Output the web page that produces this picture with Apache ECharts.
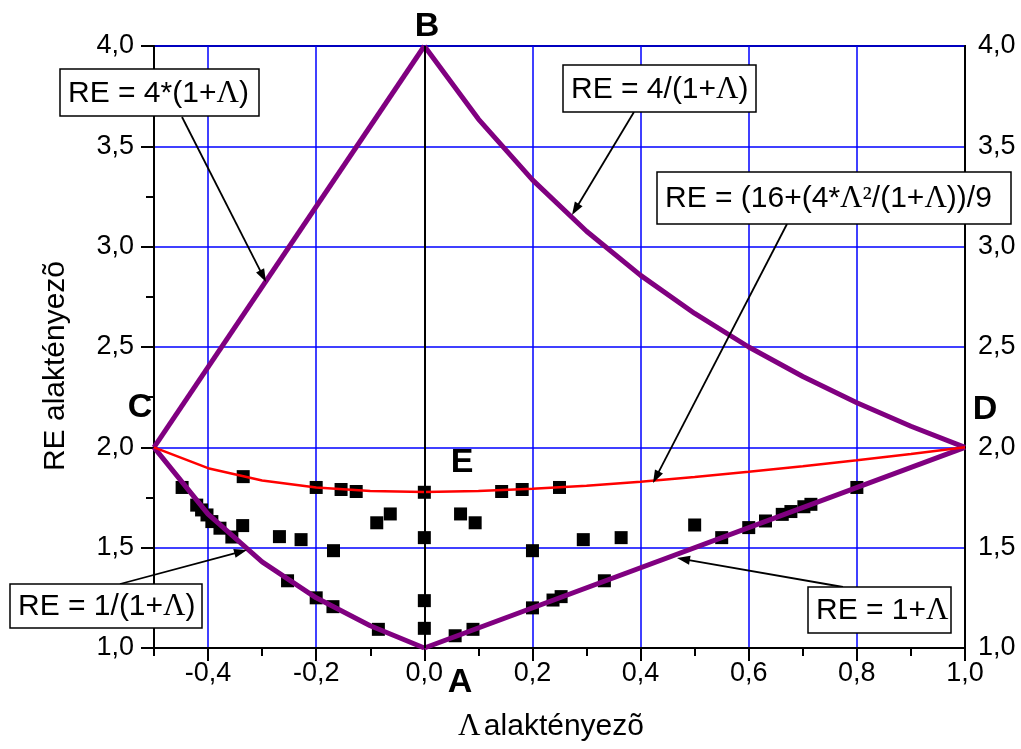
<!DOCTYPE html>
<html>
<head>
<meta charset="utf-8">
<script src="https://cdn.jsdelivr.net/npm/echarts@6/dist/echarts.min.js"></script>
<style>
body{margin:0;background:#fff;}
#chart{width:1021px;height:749px;}
</style>
</head>
<body>
<div id="chart"></div>
<script>
// RE alaktenyezo vs Lambda
var lamUpLeft = [-0.5, 0];
var reUpLeft = [2.0, 4.0];
var lamRight = [0, 0.1, 0.2, 0.3, 0.4, 0.5, 0.6, 0.7, 0.8, 0.9, 1.0];
var reUpRight = [4.0, 3.636, 3.333, 3.077, 2.857, 2.667, 2.5, 2.353, 2.222, 2.105, 2.0];
var lamLeft = [-0.5, -0.4, -0.3, -0.2, -0.1, 0];
var reLowLeft = [2.0, 1.667, 1.429, 1.25, 1.111, 1.0];
var lamLowRight = [0, 1.0];
var reLowRight = [1.0, 2.0];
var lamAll = [-0.5, -0.4, -0.3, -0.2, -0.1, 0, 0.1, 0.2, 0.3, 0.4, 0.5, 0.6, 0.7, 0.8, 0.9, 1.0];
var reRed = [2.0, 1.896, 1.835, 1.8, 1.783, 1.778, 1.782, 1.793, 1.809, 1.829, 1.852, 1.878, 1.906, 1.936, 1.967, 2.0];

var measLam = [-0.448, -0.335, -0.421, -0.412, -0.402, -0.393, -0.378, -0.356, -0.336, -0.268, -0.228,
  -0.2, -0.154, -0.126, -0.168, -0.088, -0.063, 0, 0, 0, 0, -0.253, -0.2, -0.169, -0.085,
  0.057, 0.09, 0.067, 0.094, 0.143, 0.181, 0.25, 0.2, 0.294, 0.364, 0.2, 0.238, 0.253, 0.333,
  0.5, 0.55, 0.6, 0.631, 0.662, 0.678, 0.702, 0.715, 0.8];
var measRE = [1.80, 1.854, 1.712, 1.688, 1.663, 1.63, 1.597, 1.553, 1.61, 1.555, 1.54,
  1.80, 1.79, 1.78, 1.485, 1.624, 1.668, 1.776, 1.55, 1.236, 1.098, 1.335, 1.25, 1.206, 1.093,
  1.061, 1.093, 1.668, 1.624, 1.78, 1.79, 1.80, 1.485, 1.54, 1.55, 1.20, 1.239, 1.256, 1.335,
  1.613, 1.55, 1.60, 1.633, 1.666, 1.68, 1.704, 1.716, 1.80];

var xMajor = [-0.4, -0.2, 0, 0.2, 0.4, 0.6, 0.8, 1.0];

function pairs(xs, ys){
  var out = [];
  for (var i = 0; i < xs.length; i++) out.push([xs[i], ys[i]]);
  return out;
}
function comma(v){ return v.toFixed(1).replace('.', ','); }

var FONT = '"Liberation Sans", Arial, sans-serif';
var SERIF = '"Liberation Serif", "Times New Roman", serif';
var PURPLE = '#800080';

var rich = {
  a: {fontFamily: FONT, fontSize: 30, color: '#000'},
  l: {fontFamily: SERIF, fontSize: 31, color: '#000'}
};

function box(x, y, w, h, text){
  return {
    type: 'group', z: 100,
    children: [
      {type: 'rect', shape: {x: x, y: y, width: w, height: h}, style: {fill: '#fff', stroke: '#000', lineWidth: 1.5}, z: 100},
      {type: 'text', x: x + 8, y: y + h / 2 + 1, z: 101,
        style: {text: text, rich: rich, verticalAlign: 'middle', align: 'left'}}
    ]
  };
}
function arrow(x1, y1, x2, y2){
  var a = Math.atan2(y2 - y1, x2 - x1), c = Math.cos(a), s = Math.sin(a), L = 13, W = 4.5;
  return {
    type: 'group', z: 100,
    children: [
      {type: 'line', z: 100, shape: {x1: x1, y1: y1, x2: x2 - c * L * 0.7, y2: y2 - s * L * 0.7}, style: {stroke: '#000', lineWidth: 1.8}},
      {type: 'polygon', z: 100, shape: {points: [[x2, y2], [x2 - L * c + W * s, y2 - L * s - W * c], [x2 - L * c - W * s, y2 - L * s + W * c]]}, style: {fill: '#000'}}
    ]
  };
}
function letter(t, x, y){
  return {type: 'text', x: x, y: y, z: 100,
    style: {text: t, font: 'bold 34px ' + FONT, fill: '#000', align: 'center', verticalAlign: 'middle'}};
}

var chart = echarts.init(document.getElementById('chart'));
var option = {
  backgroundColor: '#fff',
  animation: false,
  grid: {left: 154, right: 56, top: 46, bottom: 101, show: true, borderColor: '#000', borderWidth: 2, backgroundColor: 'transparent'},
  xAxis: [
    {
      type: 'value', min: -0.5, max: 1.0, interval: 0.1,
      axisLine: {show: true, onZero: false, lineStyle: {color: '#000', width: 2}},
      axisTick: {show: true, inside: false, length: 8, lineStyle: {color: '#000', width: 2}},
      axisLabel: {
        margin: 12, fontSize: 27, fontFamily: FONT, color: '#000',
        formatter: function(v){ return Math.round(v * 10) % 2 === 0 ? comma(v) : ''; }
      },
      splitLine: {show: true, lineStyle: {color: ['transparent', '#0000ff'], width: 1.5}}
    },
    {
      type: 'value', min: -0.5, max: 1.0, position: 'bottom',
      axisLine: {show: false, onZero: false},
      axisTick: {show: true, inside: false, length: 13, customValues: xMajor, lineStyle: {color: '#000', width: 2}},
      axisLabel: {show: false},
      splitLine: {show: false}
    }
  ],
  yAxis: [
    {
      type: 'value', min: 1.0, max: 4.0, interval: 0.5, position: 'left',
      axisLine: {show: true, onZero: false, lineStyle: {color: '#000', width: 2}},
      axisTick: {show: true, inside: false, length: 13, lineStyle: {color: '#000', width: 2}},
      minorTick: {show: true, splitNumber: 2, length: 8, lineStyle: {color: '#000', width: 2}},
      axisLabel: {margin: 20, fontSize: 27, fontFamily: FONT, color: '#000', formatter: comma},
      splitLine: {show: true, lineStyle: {color: '#0000ff', width: 1.5}}
    },
    {
      type: 'value', min: 1.0, max: 4.0, interval: 0.5, position: 'right',
      axisLine: {show: true, onZero: false, lineStyle: {color: '#000', width: 2}},
      axisTick: {show: false},
      axisLabel: {margin: 13, fontSize: 27, fontFamily: FONT, color: '#000', formatter: comma},
      splitLine: {show: false}
    }
  ],
  series: [
    {
      type: 'scatter', symbol: 'rect', symbolSize: 13,
      itemStyle: {color: '#000', opacity: 1},
      data: pairs(measLam, measRE),
      markLine: {
        silent: true, symbol: 'none', label: {show: false},
        lineStyle: {color: '#000', width: 2, type: 'solid'},
        data: [{xAxis: 0}]
      }
    },
    {type: 'line', data: pairs(lamUpLeft, reUpLeft), symbol: 'none', lineStyle: {color: PURPLE, width: 5}},
    {type: 'line', data: pairs(lamRight, reUpRight), symbol: 'none', lineStyle: {color: PURPLE, width: 5}},
    {type: 'line', data: pairs(lamLeft, reLowLeft), symbol: 'none', lineStyle: {color: PURPLE, width: 5}},
    {type: 'line', data: pairs(lamLowRight, reLowRight), symbol: 'none', lineStyle: {color: PURPLE, width: 5}},
    {type: 'line', data: pairs(lamAll, reRed), symbol: 'none', lineStyle: {color: '#ff0000', width: 2.5}}
  ],
  graphic: [
    {type: 'text', x: 56, y: 366, rotation: Math.PI / 2, z: 100,
      style: {text: 'RE alaktényezõ', font: '30px ' + FONT, fill: '#000', align: 'center', verticalAlign: 'middle'}},
    {type: 'text', x: 551, y: 727, z: 100,
      style: {text: '{l|Λ} {a|alaktényezõ}', rich: rich, align: 'center', verticalAlign: 'middle'}},
    letter('B', 427, 27),
    letter('C', 140, 408),
    letter('D', 985, 410),
    letter('E', 462, 463),
    letter('A', 460, 683),
    arrow(182, 117, 266, 282),
    arrow(634, 112, 572, 215),
    arrow(787, 224, 653, 483),
    arrow(120, 584, 247, 550),
    arrow(843, 587, 677, 558),
    box(60, 69, 199, 47, '{a|RE = 4*(1+}{l|Λ}{a|)}'),
    box(563, 65, 193, 47, '{a|RE = 4/(1+}{l|Λ}{a|)}'),
    box(657, 172, 354, 52, '{a|RE = (16+(4*}{l|Λ²}{a|/(1+}{l|Λ}{a|))/9}'),
    box(10, 584, 192, 44, '{a|RE = 1/(1+}{l|Λ}{a|)}'),
    box(808, 587, 143, 46, '{a|RE = 1+}{l|Λ}')
  ]
};
chart.setOption(option);
</script>
</body>
</html>
